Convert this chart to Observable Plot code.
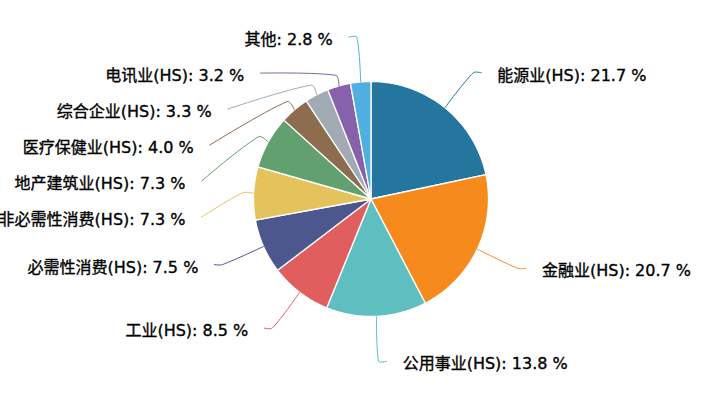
<!DOCTYPE html>
<html>
<head>
<meta charset="utf-8">
<script src="https://cdn.jsdelivr.net/npm/d3@7"></script>
<script src="https://cdn.jsdelivr.net/npm/@observablehq/plot@0.6"></script>
<style>
  html, body { margin: 0; padding: 0; background: #fff; }
  #chart svg { display: block; }
</style>
</head>
<body>
<div id="chart"></div>
<script>
// ---- data ----
const names = ["能源业(HS)", "金融业(HS)", "公用事业(HS)", "工业(HS)", "必需性消费(HS)", "非必需性消费(HS)",
               "地产建筑业(HS)", "医疗保健业(HS)", "综合企业(HS)", "电讯业(HS)", "其他"];
const values = [21.7, 20.7, 13.8, 8.5, 7.5, 7.3, 7.3, 4.0, 3.3, 3.2, 2.8];
const colors = ["#24769f", "#f68a1c", "#5fbfc0", "#e05e5e", "#4b578d", "#e4c35c",
                "#62a070", "#8d6c50", "#a2aab4", "#8662ad", "#4fafde"];

// ---- layout parameters ----
const W = 709, H = 397;
const cx = 370.5, cy = 198.5, R = 117.5;
const len = 45, len2 = 8, shortLen = 11, textGap = 16, minSpacing = 36;

const total = d3.sum(values);
let acc = 0;
const slices = values.map((v, i) => {
  const a0 = acc / total * 2 * Math.PI;
  acc += v;
  const a1 = acc / total * 2 * Math.PI;
  const mid = (a0 + a1) / 2;
  return {name: names[i], value: v, a0, a1, mid, dx: Math.sin(mid), dy: -Math.cos(mid)};
});

// slice polygons
const slicePts = [];
for (const s of slices) {
  slicePts.push({name: s.name, x: cx, y: cy});
  const n = Math.max(2, Math.ceil((s.a1 - s.a0) / (Math.PI / 360)));
  for (let k = 0; k <= n; k++) {
    const a = s.a0 + (s.a1 - s.a0) * k / n;
    slicePts.push({name: s.name, x: cx + R * Math.sin(a), y: cy - R * Math.cos(a)});
  }
}

// label layout (echarts-like)
const rA = R + len;
const labels = slices.map(s => ({
  ...s,
  side: s.dx < 0 ? -1 : 1,
  x0: cx + R * s.dx, y0: cy + R * s.dy,
  cxn: cx + rA * s.dx, y: cy + rA * s.dy,
  ny: cy + rA * s.dy
}));
for (const side of [-1, 1]) {
  const list = labels.filter(l => l.side === side).sort((a, b) => a.y - b.y);
  let shifted = false;
  for (let i = 1; i < list.length; i++) {
    if (list[i].y < list[i - 1].y + minSpacing) { list[i].y = list[i - 1].y + minSpacing; shifted = true; }
  }
  if (shifted) {
    for (const semi of [list.filter(l => l.y <= cy), list.filter(l => l.y > cy)]) {
      if (!semi.length) continue;
      let far = semi[0];
      for (const l of semi) if (Math.abs(l.y - cy) >= Math.abs(far.y - cy)) far = l;
      const fdy = Math.abs(far.y - cy), fdx = far.cxn - cx;
      const rB = Math.abs(fdx) < rA ? Math.sqrt(fdy * fdy / (1 - fdx * fdx / (rA * rA))) : rA;
      for (const l of semi) {
        const d = Math.abs(l.y - cy);
        l.cxn = cx + side * Math.sqrt(Math.max(0, (1 - d * d / (rB * rB))) * rA * rA);
      }
    }
  }
}
const leaderPts = [];
for (const l of labels) {
  const moved = Math.abs(l.y - l.ny) > 0.5;
  const p1 = moved ? [l.x0 + shortLen * l.dx, l.y0 + shortLen * l.dy] : [l.cxn, l.y];
  l.ex = l.cxn + l.side * len2;
  leaderPts.push({name: l.name, x: l.x0, y: l.y0});
  leaderPts.push({name: l.name, x: p1[0], y: p1[1]});
  leaderPts.push({name: l.name, x: l.ex, y: l.y});
  l.tx = l.ex + l.side * textGap;
  l.label = `${l.name}: ${l.value.toFixed(1)} %`;
}

// echarts-style smooth polyline as a custom curve
function smoothCurve(smooth) {
  return (context) => {
    let pts = [];
    return {
      areaStart() {}, areaEnd() {},
      lineStart() { pts = []; },
      point(x, y) { pts.push([+x, +y]); },
      lineEnd() {
        const n = pts.length;
        if (!n) return;
        context.moveTo(pts[0][0], pts[0][1]);
        const cps = pts.map((p, i) => {
          if (i === 0 || i === n - 1) return [p, p];
          const prev = pts[i - 1], next = pts[i + 1];
          const vx = (next[0] - prev[0]) * smooth, vy = (next[1] - prev[1]) * smooth;
          const d0 = Math.hypot(p[0] - prev[0], p[1] - prev[1]);
          const d1 = Math.hypot(p[0] - next[0], p[1] - next[1]);
          const s = (d0 + d1) || 1;
          return [[p[0] - vx * d0 / s, p[1] - vy * d0 / s], [p[0] + vx * d1 / s, p[1] + vy * d1 / s]];
        });
        for (let i = 1; i < n; i++) {
          const c1 = cps[i - 1][1], c2 = cps[i][0];
          context.bezierCurveTo(c1[0], c1[1], c2[0], c2[1], pts[i][0], pts[i][1]);
        }
      }
    };
  };
}

const font = "'DejaVu Sans', 'Noto Sans CJK SC', sans-serif";
const textOpts = {x: "tx", y: "y", text: "label", dy: 3, fontSize: 16, fontFamily: font,
  fill: "#000", stroke: "#000", strokeWidth: 0.35};
const chart = Plot.plot({
  width: W, height: H,
  margin: 0,
  x: {type: "linear", domain: [0, W], range: [0, W], axis: null},
  y: {type: "linear", domain: [0, H], range: [0, H], axis: null},
  color: {domain: names, range: colors},
  marks: [
    Plot.line(slicePts, {x: "x", y: "y", z: "name", fill: "name", stroke: "#fff", strokeWidth: 1.3, curve: "linear-closed"}),
    Plot.line(leaderPts, {x: "x", y: "y", z: "name", stroke: "name", strokeWidth: 1, curve: smoothCurve(0.3)}),
    Plot.text(labels.filter(l => l.side < 0), {...textOpts, textAnchor: "end"}),
    Plot.text(labels.filter(l => l.side > 0), {...textOpts, textAnchor: "start"})
  ]
});
document.getElementById("chart").appendChild(chart);
</script>
</body>
</html>
